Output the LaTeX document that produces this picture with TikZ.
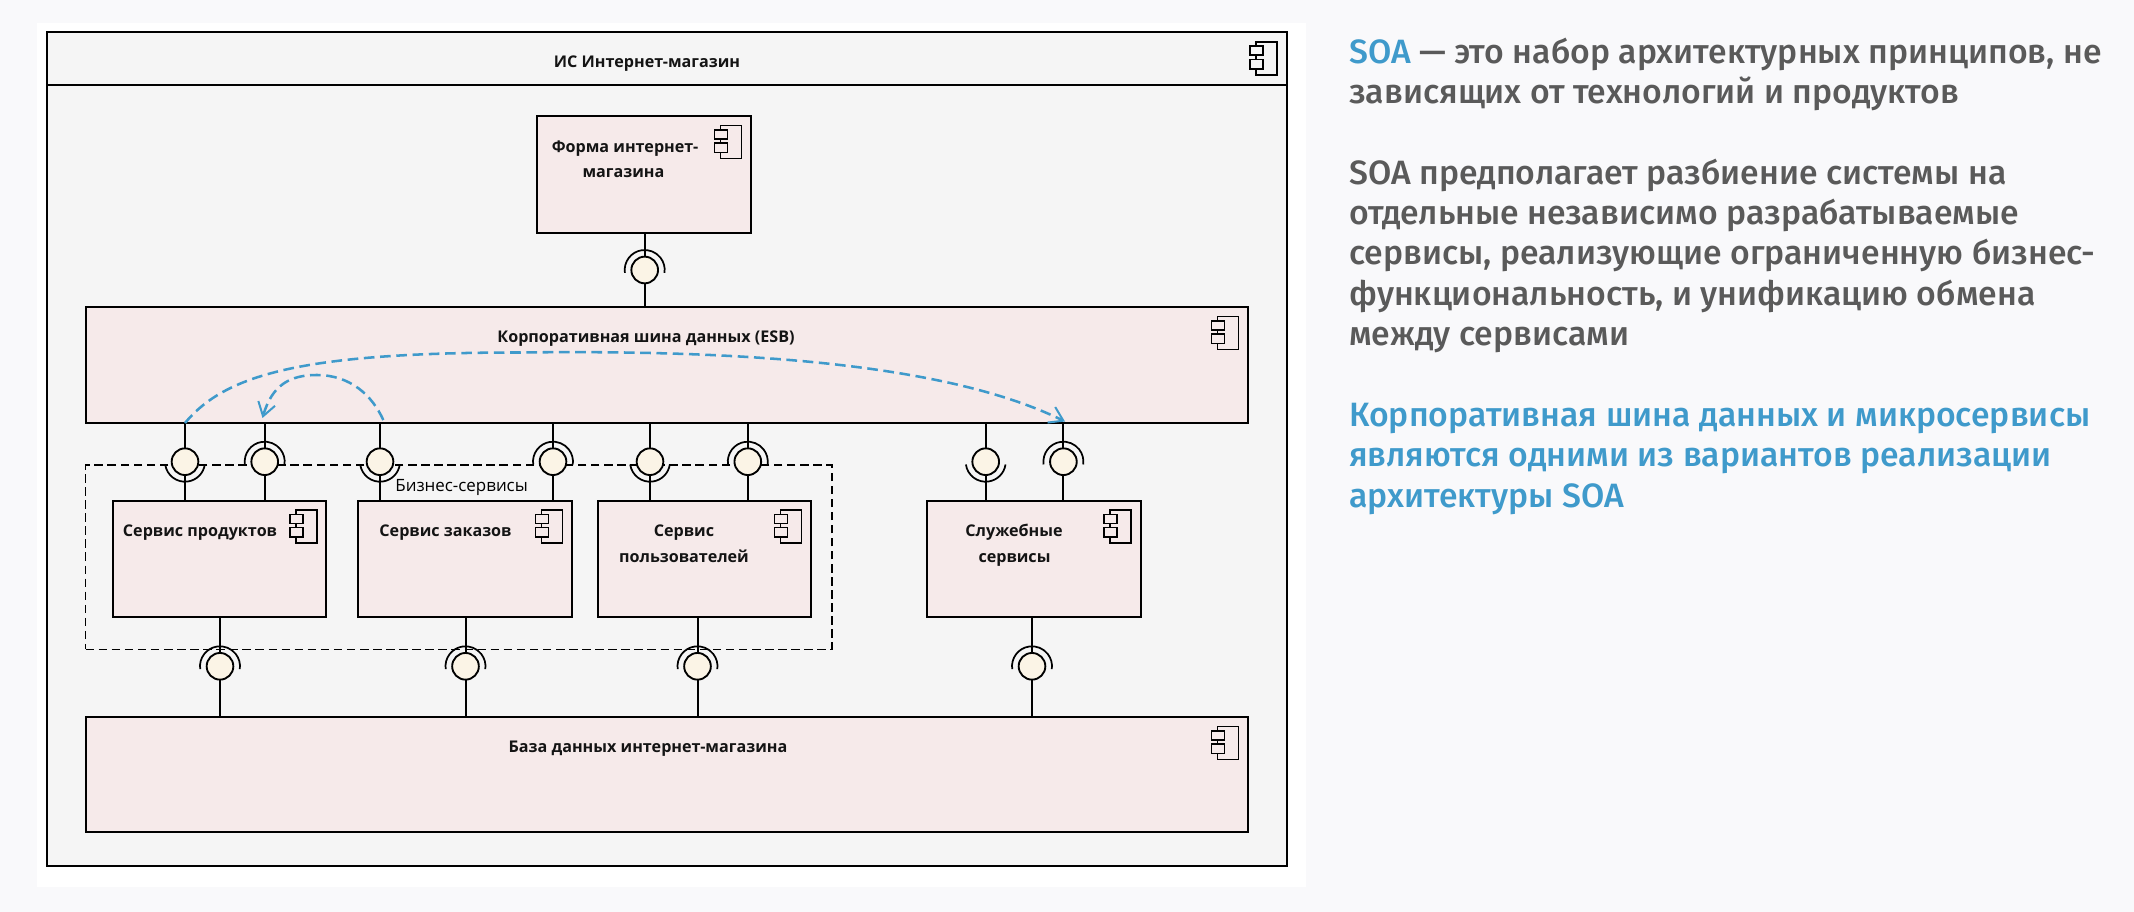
\documentclass[tikz,border=0pt]{standalone}
\usepackage{fontspec}
\usetikzlibrary{arrows.meta,backgrounds}
\setmainfont{Open Sans}
\newfontfamily\diagfont{Open Sans}
\newfontfamily\sidefont{Fira Sans Medium}
\definecolor{pagebg}{HTML}{F9F9FB}
\definecolor{framebg}{HTML}{F5F5F5}
\definecolor{boxbg}{HTML}{F6EAEA}
\definecolor{ballbg}{HTML}{FBF4E6}
\definecolor{accent}{HTML}{3F9ACB}
\definecolor{sidegrey}{HTML}{5A5A5A}
\newcommand{\compbox}[5]{%
  \node[compbox, minimum width={(#4-#2)*0.75pt}, minimum height={(#5-#3)*0.75pt}] (#1) at ({(#2+#4)/2},{(#3+#5)/2}) {};
  \begin{scope}[shift={(#1.north east)}]
    \draw[iconline] (-30.4,9.4) rectangle (-9.4,42.4);
    \draw[iconline,fill=boxbg] (-36.4,13.7) rectangle (-23.4,22.7);
    \draw[iconline,fill=boxbg] (-36.4,27) rectangle (-23.4,36.4);
  \end{scope}}
\newcommand{\sockup}[1]{\draw[sock] (#1.center) ++(188:15pt) arc[start angle=188,end angle=-8,radius=15pt];}
\newcommand{\sockdown}[1]{\draw[sock] (#1.center) ++(188:15pt) arc[start angle=188,end angle=352,radius=15pt];}
\tikzset{
  compbox/.style={draw=black,fill=boxbg,line width=1.5pt,inner sep=0,outer sep=0,rectangle},
  iconline/.style={draw=black,line width=1.2pt},
  ball/.style={circle,draw=black,fill=ballbg,line width=1.4pt,minimum size=20pt,inner sep=0,outer sep=0},
  stem/.style={draw=black,line width=1.5pt},
  sock/.style={draw=black,line width=1.3pt},
  flow/.style={draw=accent,line width=1.9pt,dash pattern=on 8pt off 4.2pt,-{Straight Barb[length=10pt,width=13pt,line width=1.5pt]}},
  lab/.style={font=\diagfont\bfseries\fontsize{12.1pt}{14pt}\selectfont,anchor=base,inner sep=0,text=black!92},
  side/.style={font=\sidefont\fontsize{25.3pt}{29pt}\selectfont,anchor=base west,inner sep=0,text=sidegrey},
  sideb/.style={side,text=accent}
}
\begin{document}
\begin{tikzpicture}[x=0.75pt,y=-0.75pt]
\useasboundingbox (0,0) rectangle (2134,912);
\fill[pagebg] (0,0) rectangle (2134,912);
\fill[white] (36.7,23) rectangle (1306,886.7);
% frame
\node[draw=black,fill=framebg,line width=1.5pt,inner sep=0,outer sep=0,minimum width={1240.1*0.75pt},minimum height={833.5*0.75pt}] (frame) at (666.55,449.25) {};
\coordinate (hl) at (46.5,85.3);
\draw[black,line width=1.5pt] (hl -| frame.west) -- (hl -| frame.east);
\begin{scope}[shift={(frame.north east)}]
  \draw[iconline] (-30.4,9.4) rectangle (-9.4,42.4);
  \draw[iconline,fill=framebg] (-36.4,13.7) rectangle (-23.4,22.7);
  \draw[iconline,fill=framebg] (-36.4,27) rectangle (-23.4,36.4);
\end{scope}
% dashed group
\node[draw=black,line width=1.2pt,dash pattern=on 6.4pt off 3.4pt,inner sep=0,outer sep=0,minimum width={746.4*0.75pt},minimum height={184*0.75pt}] (group) at (458.8,557.3) {};
% components
\compbox{form}{537.3}{116.3}{750.7}{232.7}
\compbox{bus}{85.6}{307.3}{1247.8}{423.5}
\compbox{sp}{112.8}{500.6}{326.3}{616.6}
\compbox{so}{358}{500.6}{572}{616.6}
\compbox{su}{598}{500.6}{811}{616.6}
\compbox{ss}{926.8}{500.6}{1140.6}{616.6}
\compbox{db}{85.6}{717}{1247.8}{832.3}
% interfaces
\node[ball] (lf) at (644.7,270) {};
\node[ball] (l1) at (185,461.7) {};
\node[ball] (l2) at (264.7,461.7) {};
\node[ball] (l3) at (380,461.7) {};
\node[ball] (l4) at (553,461.7) {};
\node[ball] (l5) at (650,461.7) {};
\node[ball] (l6) at (747.8,461.7) {};
\node[ball] (l7) at (985.7,461.7) {};
\node[ball] (l8) at (1063.4,461.7) {};
\node[ball] (d1) at (220,666.3) {};
\node[ball] (d2) at (465.5,666.3) {};
\node[ball] (d3) at (697.5,666.3) {};
\node[ball] (d4) at (1032,666.3) {};
% connectors
\draw[stem] (form.south -| lf) -- (lf.north);
\draw[stem] (lf.south) -- (bus.north -| lf);
\foreach \n/\b in {l1/sp,l2/sp,l3/so,l4/so,l5/su,l6/su,l7/ss,l8/ss}{
  \draw[stem] (bus.south -| \n) -- (\n.north);
  \draw[stem] (\n.south) -- (\b.north -| \n);
}
\foreach \n/\b in {d1/sp,d2/so,d3/su,d4/ss}{
  \draw[stem] (\b.south -| \n) -- (\n.north);
  \draw[stem] (\n.south) -- (db.north -| \n);
}
\sockup{lf}
\sockdown{l1}\sockup{l2}\sockdown{l3}\sockup{l4}\sockdown{l5}\sockup{l6}\sockdown{l7}\sockup{l8}
\sockup{d1}\sockup{d2}\sockup{d3}\sockup{d4}
% flows
\coordinate (fa) at (185,423);
\coordinate (fb) at (1065,421.5);
\coordinate (ga) at (383.3,420);
\coordinate (gb) at (262.5,418);
\draw[flow] (fa) .. controls (225,375) and (300,352.5) .. (520,352.5) .. controls (720,350) and (940,360) .. (fb);
\draw[flow] (ga) .. controls (372,395) and (350,375) .. (316.7,375) .. controls (290,375) and (272,385) .. (gb);
% labels
\node[lab] (t0) at (647,68) {ИС Интернет-магазин};
\node[lab] (t1) at (625,152.7) {Форма интернет-};
\node[lab] (t2) at (623.5,177.7) {магазина};
\node[lab] (t3) at (646,342.8) {Корпоративная шина данных (ESB)};
\node[lab] (t4) at (200,536.5) {Сервис продуктов};
\node[lab] (t5) at (445.5,536.5) {Сервис заказов};
\node[lab] (t6) at (684,536.5) {Сервис};
\node[lab] (t7) at (684,562) {пользователей};
\node[lab] (t8) at (1014,536.5) {Служебные};
\node[lab] (t9) at (1014.5,562) {сервисы};
\node[lab] (t10) at (648,752.5) {База данных интернет-магазина};
\node[font=\diagfont\fontsize{12.7pt}{14pt}\selectfont,anchor=base,inner sep=0] (t11) at (461.6,491.5) {Бизнес-сервисы};
% side text
\node[side] (s1) at (1349,63.5) {{\color{accent}SOA} — это набор архитектурных принципов, не};
\node[side] (s2) at (1349,103.5) {зависящих от технологий и продуктов};
\node[side] (s3) at (1349,185) {SOA предполагает разбиение системы на};
\node[side] (s4) at (1349,225) {отдельные независимо разрабатываемые};
\node[side] (s5) at (1349,265) {сервисы, реализующие ограниченную бизнес-};
\node[side] (s6) at (1349,305.5) {функциональность, и унификацию обмена};
\node[side] (s7) at (1349,346) {между сервисами};
\node[sideb] (s8) at (1349,426.5) {Корпоративная шина данных и микросервисы};
\node[sideb] (s9) at (1349,467) {являются одними из вариантов реализации};
\node[sideb] (s10) at (1349,507.5) {архитектуры SOA};
\end{tikzpicture}
\end{document}
